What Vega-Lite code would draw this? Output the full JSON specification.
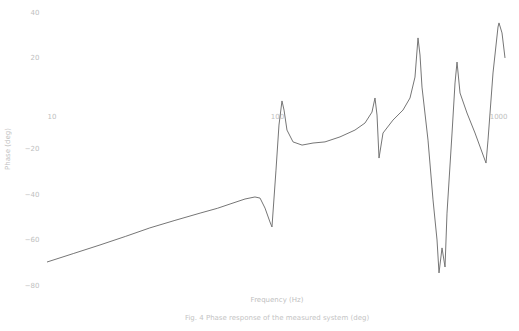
{
  "$schema": "https://vega.github.io/schema/vega-lite/v6.json",
  "width": 460,
  "height": 273,
  "autosize": {"type": "none"},
  "padding": {"left": 47, "top": 12, "right": 12, "bottom": 46},
  "background": "white",
  "config": {"view": {"stroke": null}, "font": "DejaVu Sans"},
  "title": {
    "text": "Frequency (Hz)",
    "subtitle": "Fig. 4  Phase response of the measured system (deg)",
    "orient": "bottom",
    "anchor": "middle",
    "fontSize": 7,
    "fontWeight": "normal",
    "color": "#c0c0c0",
    "subtitleFontSize": 7,
    "subtitleColor": "#c4c4c4",
    "subtitlePadding": 11,
    "offset": 8
  },
  "data": {
    "values": [
      {"f": 10.0, "v": -69.9},
      {"f": 13.0, "v": -66.2},
      {"f": 17.0, "v": -62.4},
      {"f": 22.0, "v": -58.6},
      {"f": 28.0, "v": -54.9},
      {"f": 36.0, "v": -51.6},
      {"f": 46.3, "v": -48.4},
      {"f": 55.0, "v": -46.3},
      {"f": 62.5, "v": -44.4},
      {"f": 72.6, "v": -42.2},
      {"f": 80.2, "v": -41.3},
      {"f": 84.4, "v": -41.8},
      {"f": 88.7, "v": -46.2},
      {"f": 93.2, "v": -52.3},
      {"f": 95.1, "v": -54.5},
      {"f": 99.0, "v": -29.5},
      {"f": 102.0, "v": -9.7},
      {"f": 105.1, "v": 0.9},
      {"f": 107.3, "v": -3.1},
      {"f": 110.5, "v": -11.9},
      {"f": 117.4, "v": -17.1},
      {"f": 128.5, "v": -18.5},
      {"f": 143.4, "v": -17.6},
      {"f": 161.7, "v": -17.1},
      {"f": 187.9, "v": -14.9},
      {"f": 218.3, "v": -11.9},
      {"f": 241.3, "v": -8.8},
      {"f": 258.8, "v": -4.0},
      {"f": 266.7, "v": 2.2},
      {"f": 272.2, "v": -5.3},
      {"f": 277.7, "v": -24.2},
      {"f": 289.0, "v": -13.2},
      {"f": 319.4, "v": -7.5},
      {"f": 353.0, "v": -3.1},
      {"f": 378.7, "v": 2.2},
      {"f": 398.1, "v": 11.4},
      {"f": 410.3, "v": 28.6},
      {"f": 418.6, "v": 21.1},
      {"f": 427.0, "v": 7.0},
      {"f": 453.5, "v": -16.3},
      {"f": 476.8, "v": -42.6},
      {"f": 496.3, "v": -60.2},
      {"f": 506.3, "v": -74.7},
      {"f": 521.8, "v": -63.7},
      {"f": 537.7, "v": -72.1},
      {"f": 548.5, "v": -48.4},
      {"f": 576.8, "v": -13.2},
      {"f": 594.3, "v": 8.8},
      {"f": 606.3, "v": 18.0},
      {"f": 624.8, "v": 4.4},
      {"f": 670.0, "v": -4.4},
      {"f": 726.1, "v": -13.2},
      {"f": 810.4, "v": -26.4},
      {"f": 826.9, "v": -16.3},
      {"f": 869.3, "v": 13.2},
      {"f": 913.9, "v": 33.4},
      {"f": 923.0, "v": 35.2},
      {"f": 951.2, "v": 30.8},
      {"f": 980.2, "v": 19.8}
    ]
  },
  "mark": {"type": "line", "color": "#767676", "strokeWidth": 1, "interpolate": "linear"},
  "encoding": {
    "x": {
      "field": "f",
      "type": "quantitative",
      "scale": {"type": "log", "domain": [10, 1000]},
      "axis": {
        "title": null,
        "offset": -182,
        "values": [10, 100, 1000],
        "format": "d",
        "domain": false,
        "ticks": false,
        "grid": false,
        "labelColor": "#c0c0c0",
        "labelFontSize": 7,
        "labelPadding": 9
      }
    },
    "y": {
      "field": "v",
      "type": "quantitative",
      "scale": {"domain": [-80, 40], "nice": false},
      "axis": {
        "title": "Phase (deg)",
        "titleColor": "#c0c0c0",
        "titleFontSize": 7,
        "titleFontWeight": "normal",
        "titlePadding": 14,
        "values": [-80, -60, -40, -20, 40, 20],
        "domain": false,
        "ticks": false,
        "grid": false,
        "labelColor": "#c0c0c0",
        "labelFontSize": 7,
        "labelPadding": 8
      }
    }
  }
}
